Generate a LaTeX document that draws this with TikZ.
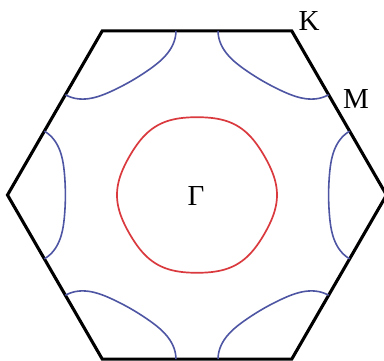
\documentclass[tikz,border=0pt]{standalone}
\usepackage{fontspec}
\setmainfont{Liberation Serif}
\usetikzlibrary{calc}
\definecolor{fsred}{RGB}{218,58,62}
\definecolor{fsblue}{RGB}{78,86,164}
\tikzset{
  zone/.style={line width=3.1pt, line join=miter, black},
  hole/.style={line width=1.6pt, fsblue},
  elec/.style={line width=1.7pt, fsred},
  lbl/.style={font=\fontsize{29}{34}\selectfont, inner sep=0pt}
}
\begin{document}
\begin{tikzpicture}[x=1pt,y=1pt]
\clip (0,0) rectangle (384,361);
\fill[white] (0,0) rectangle (384,361);
\coordinate (C) at (197,166);
\foreach \i in {0,...,5} {
  \coordinate (K\i) at ($(C)+(60*\i:189.5)$);
}
\draw[zone] (K0) -- (K1) -- (K2) -- (K3) -- (K4) -- (K5) -- cycle;
% hole pockets around K points
\foreach \i in {0,...,5} {
  \begin{scope}[shift={(K\i)}, rotate=60*\i+180]
    \draw[hole] plot[domain=-60:60, samples=61, smooth]
      (\x:{65.0-7.9*cos(3*\x)+0.8*cos(6*\x)});
  \end{scope}
}
% electron pocket around Gamma
\begin{scope}[shift={(C)}]
  \draw[elec] plot[domain=0:358, samples=180, smooth cycle]
    (\x:{78.9*(1+0.014*cos(6*\x))});
\end{scope}
\node[lbl] (gamma) at (196,165) {Γ};
\node[lbl] (klabel) at (309,340) {K};
\node[lbl] (mlabel) at (356,262) {M};
\end{tikzpicture}
\end{document}
